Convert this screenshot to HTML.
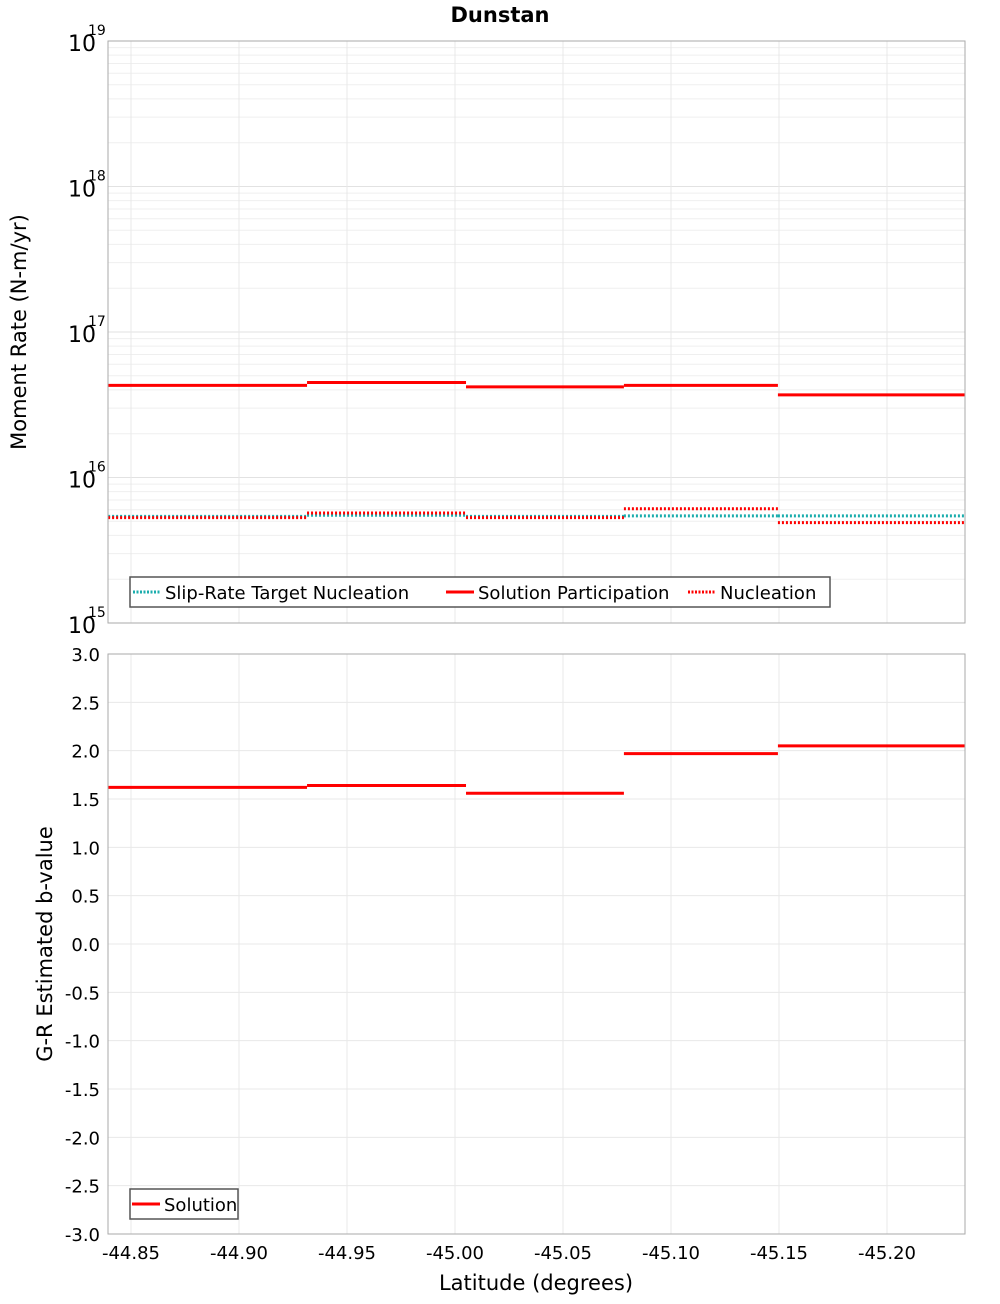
<!DOCTYPE html>
<html><head><meta charset="utf-8"><style>
body{margin:0;background:#fff;font-family:"DejaVu Sans","Liberation Sans",sans-serif}
svg text{font-family:"DejaVu Sans","Liberation Sans",sans-serif}
</style></head><body>
<svg id="chart" width="1000" height="1300" xmlns="http://www.w3.org/2000/svg">
<text x="500" y="22" text-anchor="middle" font-size="21" font-weight="bold">Dunstan</text>
<g id="topPanel"></g>
<g id="botPanel"></g>
<text transform="translate(26,332) rotate(-90)" text-anchor="middle" font-size="21">Moment Rate (N-m/yr)</text>
<text transform="translate(52,944) rotate(-90)" text-anchor="middle" font-size="21">G-R Estimated b-value</text>
<text x="536" y="1290" text-anchor="middle" font-size="21">Latitude (degrees)</text>
</svg>
<script>
const bins = [-44.8394, -44.9315, -45.0051, -45.0782, -45.1495, -45.2361];
const participation = [4.3e16, 4.5e16, 4.2e16, 4.3e16, 3.7e16];
const nucleation = [5.3e15, 5.7e15, 5.3e15, 6.1e15, 4.9e15];
const targetNucleation = [5.4e15, 5.5e15, 5.4e15, 5.45e15, 5.45e15];
const bValues = [1.62, 1.64, 1.56, 1.97, 2.05];
const xTicks = [-44.85, -44.90, -44.95, -45.00, -45.05, -45.10, -45.15, -45.20];
const bTicks = [3.0,2.5,2.0,1.5,1.0,0.5,0.0,-0.5,-1.0,-1.5,-2.0,-2.5,-3.0];
const logTicks = [15,16,17,18,19];

const NS="http://www.w3.org/2000/svg";
const L=108,R=965,T1=41,B1=623,T2=654,B2=1234;
const xs=v=>131+(-44.85-v)*2160;
const ys1=v=>B1-(Math.log10(v)-15)*(B1-T1)/4;
const ys2=v=>T2+(3-v)*(B2-T2)/6;
function mk(p,tag,a){const e=document.createElementNS(NS,tag);for(const k in a)e.setAttribute(k,a[k]);p.appendChild(e);return e;}
const topG=document.getElementById('topPanel'),botG=document.getElementById('botPanel');

for(let d=15;d<19;d++)for(let m=1;m<10;m++){const y=ys1(m*Math.pow(10,d));
 const g=mk(topG,'line',{x1:L,x2:R,y1:y,y2:y,stroke:m==1?'#e2e2e2':'#efefef','stroke-width':1});
 
 }
xTicks.forEach(v=>{[topG,botG].forEach((p,i)=>{const l=mk(p,'line',{x1:xs(v),x2:xs(v),y1:i?T2:T1,y2:i?B2:B1,stroke:'#e8e8e8'});
 
 });});
bTicks.forEach(v=>{const l=mk(botG,'line',{x1:L,x2:R,y1:ys2(v),y2:ys2(v),stroke:'#e8e8e8'});
 
 
 const t=mk(botG,'text',{x:100,y:ys2(v)+7,'text-anchor':'end','font-size':18});t.textContent=v.toFixed(1);
 
 });
logTicks.forEach(d=>{const t=mk(topG,'text',{x:96,y:ys1(Math.pow(10,d))+10,'text-anchor':'end','font-size':22});t.textContent='10';
 
 
 const s=mk(topG,'text',{x:88,y:ys1(Math.pow(10,d))-6,'font-size':14});s.textContent=d;
 
 });
xTicks.forEach(v=>{const t=mk(botG,'text',{x:xs(v),y:1259,'text-anchor':'middle','font-size':18});t.textContent=v.toFixed(2);
 
 });

function steps(p,vals,ys,col,dash,w,name){vals.forEach((v,i)=>{const a={x1:xs(bins[i]),x2:xs(bins[i+1]),y1:ys(v),y2:ys(v),stroke:col,'stroke-width':w};
 if(dash)a['stroke-dasharray']=dash;const l=mk(p,'line',a);
 
 });}
steps(topG,targetNucleation,ys1,'#1aadad','2,2',3,'target-nucleation-step');
steps(topG,nucleation,ys1,'#ff0000','2,2',3,'nucleation-step');
steps(topG,participation,ys1,'#ff0000',null,3,'participation-step');
steps(botG,bValues,ys2,'#ff0000',null,3,'b-value-step');

[[T1,B1],[T2,B2]].forEach(([a,b],i)=>{const r=mk(i?botG:topG,'rect',{x:L,y:a,width:R-L,height:b-a,fill:'none',stroke:'#aaa'});
 
 });

function legend(p,x,y,w,items){const g=mk(p,'g',{});
 
 
 mk(g,'rect',{x:x,y:y,width:w,height:30,fill:'#fff',stroke:'#555','stroke-width':1.5});
 items.forEach(it=>{const a={x1:it[0],x2:it[0]+28,y1:y+15,y2:y+15,stroke:it[2],'stroke-width':3};if(it[3])a['stroke-dasharray']='2,1.5';
  mk(g,'line',a);const t=mk(g,'text',{x:it[0]+32,y:y+22,'font-size':18});t.textContent=it[1];
  
  });}
legend(topG,130,577,700,[[133,'Slip-Rate Target Nucleation','#1aadad',1],[446,'Solution Participation','#ff0000',0],[688,'Nucleation','#ff0000',1]]);
legend(botG,130,1189,108,[[132,'Solution','#ff0000',0]]);
</script>
</body></html>
